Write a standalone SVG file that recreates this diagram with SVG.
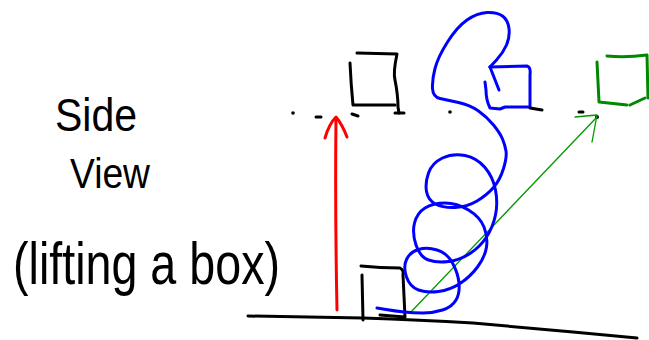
<svg xmlns="http://www.w3.org/2000/svg" width="649" height="340" viewBox="0 0 649 340">
<style>
.ink{fill:none;stroke:#000;stroke-width:3;stroke-linecap:round;stroke-linejoin:round}
.blue{fill:none;stroke:#0000ff;stroke-width:3;stroke-linecap:round;stroke-linejoin:round}
.green{fill:none;stroke:#008800;stroke-width:3;stroke-linecap:round;stroke-linejoin:round}
.thin{fill:none;stroke:#009900;stroke-width:1.3;stroke-linecap:round;stroke-linejoin:round}
.red{fill:none;stroke:#ff0000;stroke-width:3;stroke-linecap:round;stroke-linejoin:round}
.lbl{font-family:"Liberation Sans",Arial,sans-serif;fill:#000}
</style>
<rect width="649" height="340" fill="#fff"/>
<g id="label">
<text class="lbl" x="55" y="131" font-size="47" textLength="82" lengthAdjust="spacingAndGlyphs">Side</text>
<text class="lbl" x="70" y="188" font-size="43" textLength="80" lengthAdjust="spacingAndGlyphs">View</text>
<text class="lbl" x="13" y="284" font-size="60" textLength="267" lengthAdjust="spacingAndGlyphs">(lifting a box)</text>
</g>
<g id="ground">
<path class="ink" d="M248,316 L363,318 Q420,320 473,323 Q530,328 573,332 L637,338"/>
</g>
<g id="box-start">
<path class="ink" d="M362,275 L363,320"/>
<path class="ink" d="M361,266 Q380,268 400,268 Q404,270 403,275 L405,317 L380,315"/>
</g>
<g id="box-lifted-black">
<path class="ink" d="M350,63 Q351,85 353,105 L395,105"/>
<path class="ink" d="M357,53 L397,54 Q393,73 395,80 Q398,95 398,107 L399,113"/>
<circle cx="293" cy="113" r="1.8" fill="#000"/>
<path class="ink" d="M316,117 L321,117 M352,114 L358,116 M395,113 L404,113" stroke-width="2.5"/>
</g>
<g id="box-lifted-blue">
<path class="blue" d="M490,67 L527,66 Q531,67 530,75 L530,107 L505,107 L500,109 L490,108 Q486,100 486,90 L485,82"/>
<path class="blue" d="M490,67 L499,90" stroke-width="3.5"/>
<path class="ink" d="M530,108 L542,110" stroke-width="2.5"/>
<circle cx="450" cy="112" r="1.8" fill="#000"/>
</g>
<g id="box-lifted-green">
<path class="green" d="M597,62 L599,102 L627,105"/>
<path class="green" d="M630,105 L645,98"/>
<path class="green" d="M607,56 Q625,58 647,55 L648,98"/>
<circle cx="597" cy="117" r="2" fill="#000"/>
<path class="ink" d="M579,112 L583,112" stroke-width="2"/>
</g>
<g id="connectors">
<path class="red" d="M337,310 Q335,210 336,118"/>
<path class="red" d="M325,138 Q329,124 336,117 Q342,124 347,137"/>
<path class="thin" d="M410,313 L597,117"/>
<path class="thin" d="M575,117 L597,115 L592,142" stroke-width="1.8"/>
<path class="blue" d="M490,67 L496.5,60 Q503,53 506.5,45 Q510,37 509,28.5 Q508,20 502.5,16 Q497,12 487,12.5 Q477,13 467,20 Q457,27 447.5,42 Q438,57 435,68.5 Q432,80 432.5,88.5 Q433,97 440,98.5 Q447,100 458.5,102.5 Q470,105 478.5,111 Q487,117 493.5,125 Q500,133 502.5,139 Q505,145 506,151 Q507,157 503.5,168.5 Q500,180 493.5,187.5 Q487,195 477,201 Q467,207 455,207.5 Q443,208 435.5,204 Q428,200 426.5,191.5 Q425,183 428.5,173 Q432,163 442.5,158 Q453,153 465,155.5 Q477,158 485,167.5 Q493,177 495.5,190 Q498,203 495.5,215 Q493,227 486.5,237 Q480,247 470,253.5 Q460,260 448.5,261.5 Q437,263 428.5,260 Q420,257 416,245 Q412,233 414.5,223 Q417,213 425,208 Q433,203 445,203 Q457,203 468.5,210 Q480,217 484,227 Q488,237 486.5,247 Q485,257 477.5,267 Q470,277 460,283.5 Q450,290 438.5,291.5 Q427,293 418.5,290 Q410,287 406.5,277 Q403,267 406.5,259.5 Q410,252 418.5,249.5 Q427,247 437,250 Q447,253 452.5,263 Q458,273 459,283 Q460,293 456,300 Q452,307 442.5,310 Q433,313 423,313 Q413,313 404,312 Q395,311 386,309.5 L377,308"/>
</g>
</svg>
